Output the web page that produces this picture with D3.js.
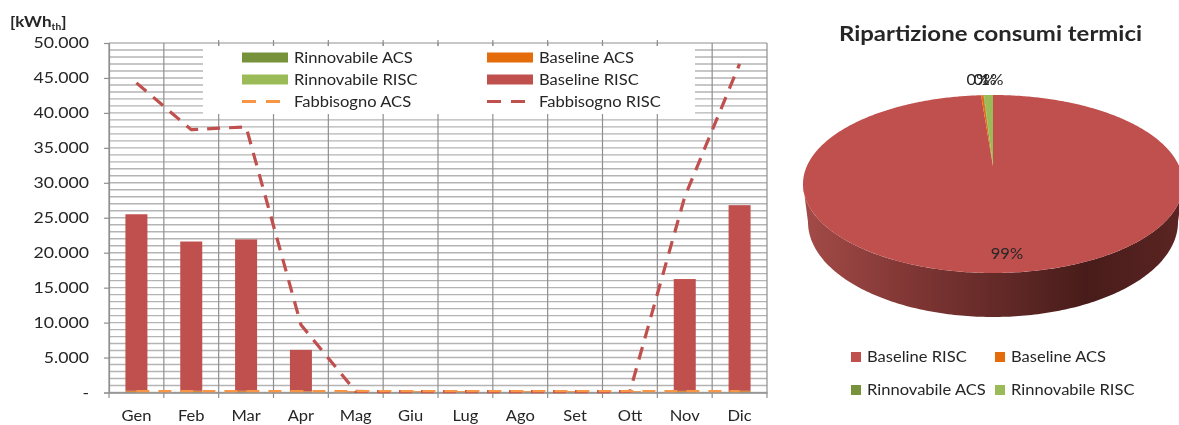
<!DOCTYPE html>
<html><head><meta charset="utf-8">
<script src="https://cdnjs.cloudflare.com/ajax/libs/d3/7.8.5/d3.min.js"></script>
<style>
html,body{margin:0;padding:0;background:#fff;overflow:hidden}
svg{display:block;filter:blur(.45px)}
text{font-family:Lato,"Open Sans",sans-serif;fill:#262626}
</style></head><body>
<svg id="c" width="1179" height="425"></svg>
<script>
const months = ["Gen","Feb","Mar","Apr","Mag","Giu","Lug","Ago","Set","Ott","Nov","Dic"];
const rinnovabileACS  = [60,60,60,30,30,30,30,30,30,30,60,60];
const baselineACS     = [130,130,130,130,130,130,130,130,130,130,130,130];
const rinnovabileRISC = [50,50,50,20,0,0,0,0,0,0,40,50];
const baselineRISC    = [25260,21360,21660,5920,0,0,0,0,0,0,16000,26560];
const fabbisognoACS   = [190,190,190,190,190,190,190,190,190,190,190,190];
const fabbisognoRISC  = [44300,37600,38000,9700,150,120,120,120,120,150,28000,47000];
const yTicks = [0,5000,10000,15000,20000,25000,30000,35000,40000,45000,50000];
const pieNames  = ["Baseline RISC","Baseline ACS","Rinnovabile ACS","Rinnovabile RISC"];
const pieValues = [99.0,0.2,0.05,0.75];
const pieLabels = ["99%","0%","0%","1%"];
const colors = {"Rinnovabile ACS":"#76933c","Baseline ACS":"#e46c0a","Rinnovabile RISC":"#9bbb59","Baseline RISC":"#c0504d","Fabbisogno ACS":"#f79646","Fabbisogno RISC":"#c0504d"};

const svg = d3.select("#c");
const x = d3.scaleBand().domain(months).range([109,767]).paddingInner(0).paddingOuter(0);
const y = d3.scaleLinear().domain([0,50000]).range([392.5,43]);
const barW = 22;

const minor = d3.range(0,50001,1000);
svg.append("g").selectAll("line").data(minor).join("line")
  .attr("x1",109).attr("x2",767).attr("y1",d=>y(d)).attr("y2",d=>y(d))
  .attr("stroke","#b4b4b4").attr("stroke-width",1.4);
const edges = months.map(m=>x(m)).concat([767]);
svg.append("g").selectAll("line").data(edges).join("line")
  .attr("x1",d=>d).attr("x2",d=>d).attr("y1",43).attr("y2",392.5)
  .attr("stroke","#8f8f8f").attr("stroke-width",1.2);

svg.append("rect").attr("x",203).attr("y",46).attr("width",492).attr("height",68).attr("fill","#fff");
svg.append("g").selectAll("line").data(edges.filter(d=>d>203&&d<695)).join("line")
  .attr("x1",d=>d).attr("x2",d=>d).attr("y1",40).attr("y2",46)
  .attr("stroke","#8f8f8f").attr("stroke-width",1.2);

const barKeys = ["Rinnovabile ACS","Baseline ACS","Rinnovabile RISC","Baseline RISC"];
const barVals = [rinnovabileACS,baselineACS,rinnovabileRISC,baselineRISC];
const rows = months.map((m,i)=>{const o={m};barKeys.forEach((k,j)=>o[k]=barVals[j][i]);return o;});
const stacked = d3.stack().keys(barKeys)(rows);
svg.append("g").selectAll("g").data(stacked).join("g").attr("fill",d=>colors[d.key])
  .selectAll("rect").data(d=>d).join("rect")
  .attr("x",d=>x(d.data.m)+x.bandwidth()/2-barW/2)
  .attr("width",barW)
  .attr("y",d=>y(d[1]))
  .attr("height",d=>Math.max(0,y(d[0])-y(d[1])));

const yAxis = d3.axisLeft(y).tickValues(yTicks).tickSize(5).tickPadding(15)
  .tickFormat(d=>d===0?"-":d3.format(",")(d).replace(/,/g,"."));
const gy = svg.append("g").attr("transform","translate(109,0)").call(yAxis);
const xAxis = d3.axisBottom(x).tickSize(0).tickPadding(18);
const gx = svg.append("g").attr("transform","translate(0,392.5)").call(xAxis);
gy.selectAll("path,line").attr("stroke","#8f8f8f").attr("stroke-width",1.2);
gx.select("path").attr("stroke","#8f8f8f").attr("stroke-width",1.6);
svg.append("g").selectAll("line").data(edges).join("line")
  .attr("x1",d=>d).attr("x2",d=>d).attr("y1",392.5).attr("y2",398)
  .attr("stroke","#8f8f8f").attr("stroke-width",1.2);
gy.selectAll("text").attr("font-size",15.5).attr("font-family",null).attr("fill","#262626").classed("wide",true);
gx.selectAll("text").attr("font-size",14.5).attr("font-family",null).attr("fill","#262626").classed("wide",true);

const line = d3.line().x((d,i)=>x(months[i])+x.bandwidth()/2).y(d=>y(d));
svg.append("path").attr("d",line(fabbisognoRISC)).attr("fill","none")
  .attr("stroke",colors["Fabbisogno RISC"]).attr("stroke-width",3.2).attr("stroke-dasharray","13 9");
svg.append("path").attr("d",line(fabbisognoACS)).attr("fill","none")
  .attr("stroke",colors["Fabbisogno ACS"]).attr("stroke-width",2.4).attr("stroke-dasharray","13 9");

const u = svg.append("text").attr("transform","translate(10,27) scale(1.14,1)").attr("font-size",15).attr("font-weight",700);
u.append("tspan").text("[kWh");
u.append("tspan").text("th").attr("font-size",9).attr("dy",3);
u.append("tspan").text("]").attr("dy",-3);

const legendItems = [
 {k:"Rinnovabile ACS",c:0,r:0,t:"bar"},{k:"Baseline ACS",c:1,r:0,t:"bar"},
 {k:"Rinnovabile RISC",c:0,r:1,t:"bar"},{k:"Baseline RISC",c:1,r:1,t:"bar"},
 {k:"Fabbisogno ACS",c:0,r:2,t:"line"},{k:"Fabbisogno RISC",c:1,r:2,t:"line"}];
const lx = d3.scaleOrdinal().domain([0,1]).range([242,487]);
const ly = d3.scalePoint().domain([0,1,2]).range([57.5,101.5]);
const lg = svg.append("g").selectAll("g").data(legendItems).join("g")
  .attr("transform",d=>`translate(${lx(d.c)},${ly(d.r)})`);
lg.filter(d=>d.t==="bar").append("rect").attr("x",0).attr("y",-5).attr("width",46).attr("height",10).attr("fill",d=>colors[d.k]);
lg.filter(d=>d.t==="line").append("line").attr("x1",0).attr("x2",46).attr("stroke",d=>colors[d.k])
  .attr("stroke-width",3).attr("stroke-dasharray","14 10");
lg.append("text").attr("class","wide").attr("x",52).attr("dy","0.36em").attr("font-size",14.5).text(d=>d.k);

const cx=993, apexY=166, cyE=184, rx=190, ry=89;
const bcy=222, brx=185, bry=95;
const defs = svg.append("defs");
const grad = defs.append("linearGradient").attr("id","side").attr("gradientUnits","userSpaceOnUse")
  .attr("x1",cx-brx).attr("x2",cx+brx).attr("y1",0).attr("y2",0);
[[0,"#a24a47"],[0.3,"#7d3533"],[0.55,"#5f2826"],[0.75,"#481c1a"],[1,"#5a2422"]].forEach(s=>
  grad.append("stop").attr("offset",s[0]).attr("stop-color",s[1]));

const sideLine = d3.line().x(d=>d[0]).y(d=>d[1]);
const sidePts = d3.range(0,181,1).map(d=>{const a=d*Math.PI/180;return [cx+brx*Math.cos(a),bcy+bry*Math.sin(a)];});
const topPts  = d3.range(180,-1,-1).map(d=>{const a=d*Math.PI/180;return [cx+rx*Math.cos(a),cyE+ry*Math.sin(a)];});
svg.append("path").attr("d",sideLine(sidePts.concat(topPts))+"Z").attr("fill","url(#side)");

const arcs = d3.pie().sort(null).value(d=>d)(pieValues);
const wedge = a=>{
  const n=Math.max(2,Math.ceil((a.endAngle-a.startAngle)/0.01));
  const pts=[[cx,apexY]];
  for(let i=0;i<=n;i++){const t=a.startAngle+(a.endAngle-a.startAngle)*i/n;
    pts.push([cx+rx*Math.sin(t),cyE-ry*Math.cos(t)]);}
  return sideLine(pts)+"Z";
};
svg.append("g").selectAll("path").data(arcs).join("path")
  .attr("d",wedge).attr("fill",(d,i)=>colors[pieNames[i]]);

const labelPos = [[1007,259],[978,85],[985,85],[992,85]];
svg.append("g").selectAll("text").data(pieLabels).join("text").attr("class","wide")
  .attr("x",(d,i)=>labelPos[i][0]).attr("y",(d,i)=>labelPos[i][1])
  .attr("text-anchor","middle").attr("font-size",14.5).text(d=>d);

svg.append("text").attr("class","wide").attr("x",990.5).attr("y",41).attr("text-anchor","middle")
  .attr("font-size",21).attr("font-weight",700).attr("fill","#111").text("Ripartizione consumi termici");

const plx=[851,995], ply=[357,390];
const pl = svg.append("g").selectAll("g").data(pieNames).join("g")
  .attr("transform",(d,i)=>`translate(${plx[i%2]},${ply[Math.floor(i/2)]})`);
pl.append("rect").attr("x",0).attr("y",-5).attr("width",10).attr("height",10).attr("fill",d=>colors[d]);
pl.append("text").attr("class","wide").attr("x",16).attr("dy","0.36em").attr("font-size",14.5).text(d=>d);

// the reference's lettering is slightly stretched horizontally
svg.selectAll("text.wide").each(function(){
  const len=this.getComputedTextLength();
  d3.select(this).attr("textLength",len*1.14).attr("lengthAdjust","spacingAndGlyphs");
});
</script>
</body></html>
